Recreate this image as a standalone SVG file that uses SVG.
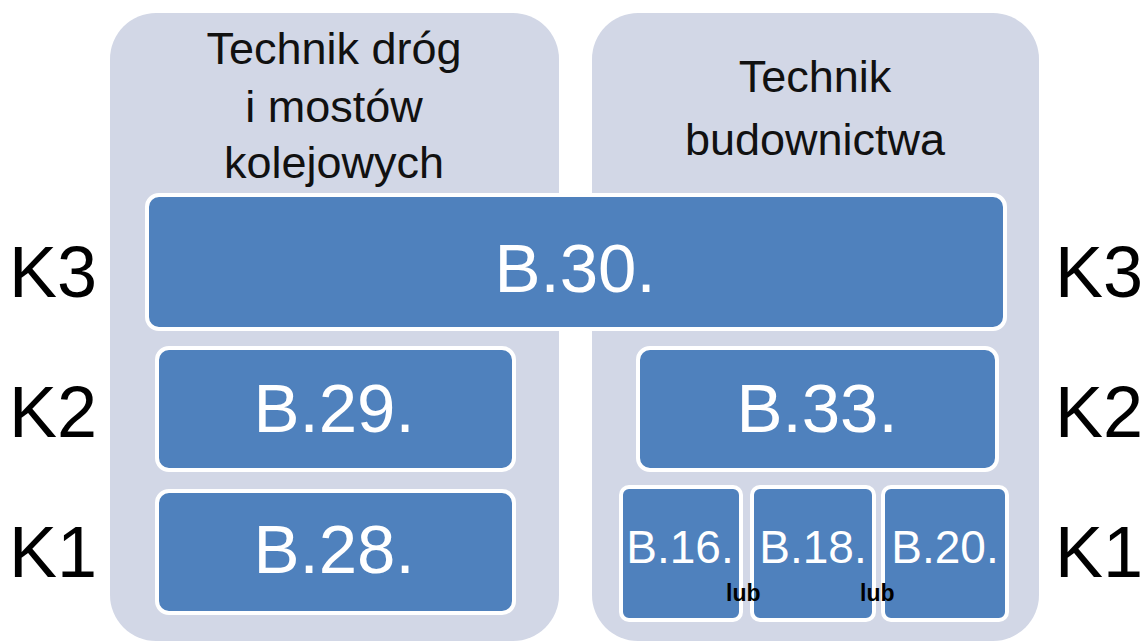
<svg xmlns="http://www.w3.org/2000/svg" width="1148" height="641" viewBox="0 0 1148 641">
<style>
.panel{fill:#D2D7E6}
.box{fill:#4F81BD;stroke:#FFFFFF;stroke-width:4}
.ttl{font-family:"Liberation Sans",Arial,sans-serif;font-size:45px;fill:#111111;text-anchor:middle}
.big{font-family:"Liberation Sans",Arial,sans-serif;font-size:69px;fill:#FFFFFF;text-anchor:middle}
.sm{font-family:"Liberation Sans",Arial,sans-serif;font-size:46px;fill:#FFFFFF;text-anchor:middle}
.k{font-family:"Liberation Sans",Arial,sans-serif;font-size:72px;fill:#000000}
.lub{font-family:"Liberation Sans",Arial,sans-serif;font-size:23px;font-weight:bold;fill:#000000}
</style>
<rect width="1148" height="641" fill="#FFFFFF"/>
<g id="panel-left">
<rect class="panel" x="110" y="13" width="449" height="628" rx="46"/>
<text class="ttl" x="334" y="64">Technik dróg</text>
<text class="ttl" x="334" y="122">i mostów</text>
<text class="ttl" x="334" y="178">kolejowych</text>
</g>
<g id="panel-right">
<rect class="panel" x="592" y="13" width="447" height="628" rx="46"/>
<text class="ttl" x="815" y="92">Technik</text>
<text class="ttl" x="815" y="155">budownictwa</text>
</g>
<g id="b30"><rect class="box" x="147" y="195" width="858" height="134" rx="12"/><text class="big" x="575" y="292">B.30.</text></g>
<g id="b29"><rect class="box" x="157" y="348" width="357" height="122" rx="12"/><text class="big" x="334" y="432">B.29.</text></g>
<g id="b28"><rect class="box" x="157" y="491" width="357" height="122" rx="12"/><text class="big" x="334" y="573">B.28.</text></g>
<g id="b33"><rect class="box" x="638" y="348" width="359" height="122" rx="12"/><text class="big" x="817" y="432">B.33.</text></g>
<g id="b16"><rect class="box" x="621" y="487" width="120" height="133" rx="8"/><text class="sm" x="680" y="563">B.16.</text></g>
<g id="b18"><rect class="box" x="752" y="487" width="122" height="133" rx="8"/><text class="sm" x="813" y="563">B.18.</text></g>
<g id="b20"><rect class="box" x="883" y="487" width="124" height="133" rx="8"/><text class="sm" x="945" y="563">B.20.</text></g>
<g id="labels">
<text class="lub" x="726" y="601">lub</text>
<text class="lub" x="860" y="601">lub</text>
<text class="k" x="9" y="297">K3</text>
<text class="k" x="9" y="437">K2</text>
<text class="k" x="9" y="577">K1</text>
<text class="k" x="1055" y="297">K3</text>
<text class="k" x="1055" y="437">K2</text>
<text class="k" x="1055" y="577">K1</text>
</g>
<g id="connectors"></g>
</svg>
